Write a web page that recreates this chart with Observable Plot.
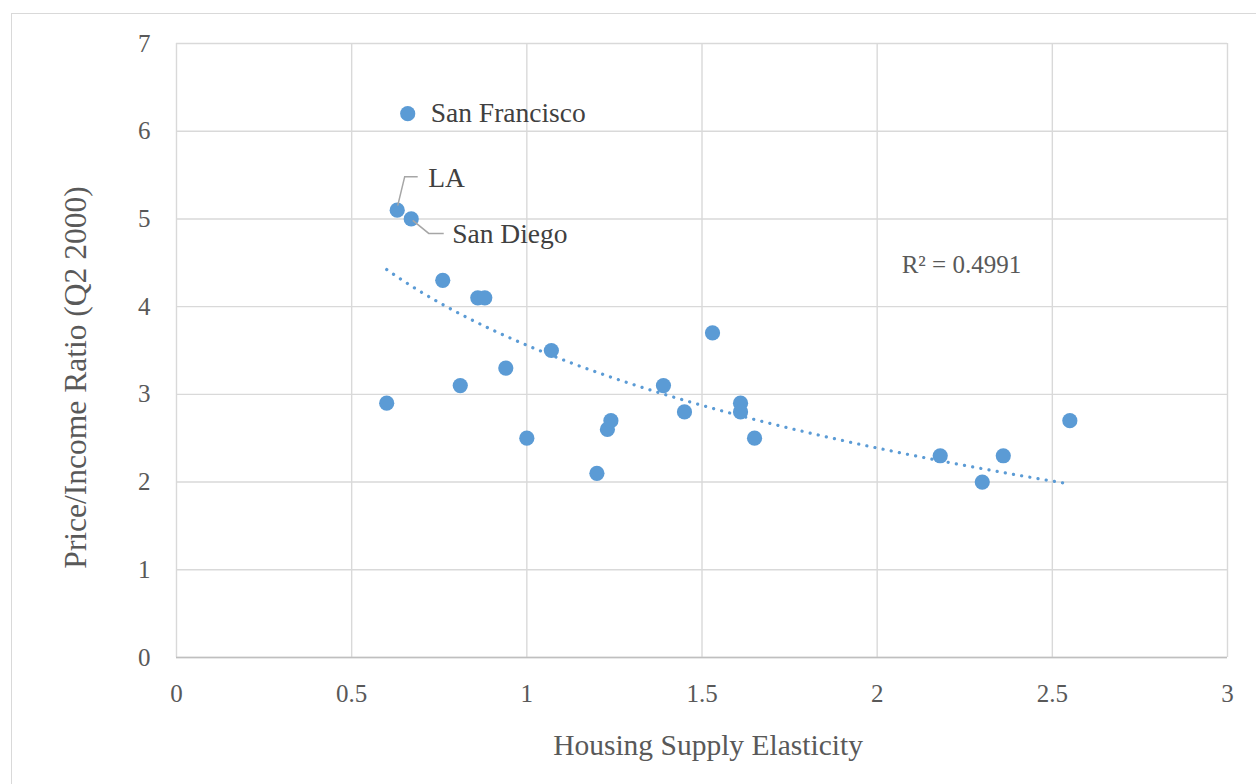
<!DOCTYPE html>
<html>
<head>
<meta charset="utf-8">
<script src="https://cdn.jsdelivr.net/npm/d3@7"></script>
<script src="https://cdn.jsdelivr.net/npm/@observablehq/plot@0.6"></script>
<style>
  html, body { margin: 0; padding: 0; background: #fff; overflow: hidden; }
  #wrap { position: relative; width: 1256px; height: 784px; }
  #frame { position: absolute; left: 11px; top: 13px; width: 1300px; height: 900px;
           border: 1.3px solid #d9d9d9; box-sizing: border-box; }
  #chart { position: absolute; left: 0; top: 0; }
</style>
</head>
<body>
<div id="wrap"><div id="frame"></div><div id="chart"></div></div>
<script>
// ---- Data ----
const elasticity = [0.66, 0.63, 0.67, 0.76, 0.86, 0.88, 1.07, 0.81, 0.94, 0.60, 1.00, 1.20, 1.23, 1.24, 1.39, 1.45, 1.53, 1.61, 1.61, 1.65, 2.18, 2.30, 2.36, 2.55];
const priceIncome = [6.2, 5.1, 5.0, 4.3, 4.1, 4.1, 3.5, 3.1, 3.3, 2.9, 2.5, 2.1, 2.6, 2.7, 3.1, 2.8, 3.7, 2.9, 2.8, 2.5, 2.3, 2.0, 2.3, 2.7];
const cityNames = ["San Francisco", "LA", "San Diego", "", "", "", "", "", "", "", "", "", "", "", "", "", "", "", "", "", "", "", "", ""];
const xTicks = [0, 0.5, 1, 1.5, 2, 2.5, 3];
const yTicks = [0, 1, 2, 3, 4, 5, 6, 7];
const xTitle = "Housing Supply Elasticity";
const yTitle = "Price/Income Ratio (Q2 2000)";
const r2Text = "R² = 0.4991";
const r2Pos = {x: 2.07, y: 4.47};

// ---- Build table ----
const points = elasticity.map((x, i) => ({x, y: priceIncome[i], name: cityNames[i]}));

// Logarithmic least-squares trendline (y = a + b ln x), as Excel computes it
const lx = points.map(d => Math.log(d.x));
const mx = d3.mean(lx), my = d3.mean(points, d => d.y);
const b = d3.sum(points, (d, i) => (lx[i] - mx) * (d.y - my)) / d3.sum(lx, v => (v - mx) ** 2);
const a = my - b * mx;
const [xmin, xmax] = d3.extent(elasticity);
const trend = d3.range(0, 101).map(k => {
  const x = xmin + (xmax - xmin) * k / 100;
  return {x, y: a + b * Math.log(x)};
});

// ---- Styles ----
const BLUE = "#5b9bd5";
const GRID = "#d9d9d9";
const TEXT = "#595959";
const FONT = "'Liberation Serif', 'Times New Roman', serif";
// label placement (pixel offsets from the point) and leader paths
const labelStyle = {
  "San Francisco": {dx: 23, dy: 0, leader: null},
  "LA": {dx: 31, dy: -32, leader: [[1, -4], [8, -33], [21, -33]]},
  "San Diego": {dx: 41, dy: 15, leader: [[2, 2], [18, 15], [33, 15]]}
};
const labeled = points.filter(d => d.name);

const leaders = (index, scales) => {
  const g = d3.create("svg:g");
  for (const d of labeled) {
    const s = labelStyle[d.name];
    if (!s.leader) continue;
    const px = scales.x(d.x), py = scales.y(d.y);
    g.append("path")
      .attr("d", "M" + s.leader.map(([ox, oy]) => `${px + ox},${py + oy}`).join("L"))
      .attr("fill", "none")
      .attr("stroke", "#a6a6a6")
      .attr("stroke-width", 1.5);
  }
  return g.node();
};

const labelMarks = labeled.map(d => Plot.text([d], {
  x: "x", y: "y", text: "name", textAnchor: "start", lineAnchor: "middle",
  dx: labelStyle[d.name].dx, dy: labelStyle[d.name].dy, fontSize: 27.5, fill: "#404040"
}));

const chart = Plot.plot({
  width: 1256,
  height: 784,
  marginLeft: 176,
  marginRight: 29,
  marginTop: 43,
  marginBottom: 127,
  style: {fontFamily: FONT, background: "transparent", overflow: "visible"},
  x: {domain: [0, 3]},
  y: {domain: [0, 7]},
  marks: [
    Plot.gridX(xTicks, {stroke: GRID, strokeOpacity: 1, strokeWidth: 1.4}),
    Plot.gridY(yTicks, {stroke: GRID, strokeOpacity: 1, strokeWidth: 1.4}),
    Plot.ruleY([0], {stroke: "#bfbfbf", strokeWidth: 1.6}),
    Plot.axisX(xTicks, {tickSize: 0, tickPadding: 27, fontSize: 25, fill: TEXT, label: null, tickFormat: d => String(d)}),
    Plot.axisY(yTicks, {tickSize: 0, tickPadding: 26, fontSize: 25, fill: TEXT, label: null, tickFormat: d => String(d)}),
    Plot.line(trend, {x: "x", y: "y", stroke: BLUE, strokeWidth: 3.2, strokeDasharray: "0.1 8.2", strokeLinecap: "round"}),
    Plot.dot(points, {x: "x", y: "y", r: 7.6, fill: BLUE, stroke: null}),
    leaders,
    ...labelMarks,
    Plot.text([r2Text], {x: r2Pos.x, y: r2Pos.y, textAnchor: "start", lineAnchor: "middle", fontSize: 25, fill: TEXT}),
    Plot.text([xTitle], {frameAnchor: "bottom", dx: 6, dy: 88, textAnchor: "middle", lineAnchor: "middle", fontSize: 29.5, fill: TEXT}),
    Plot.text([yTitle], {frameAnchor: "left", dx: -101, dy: 27, rotate: -90, textAnchor: "middle", lineAnchor: "middle", fontSize: 31.5, fill: TEXT})
  ]
});
document.getElementById("chart").appendChild(chart);
</script>
</body>
</html>
